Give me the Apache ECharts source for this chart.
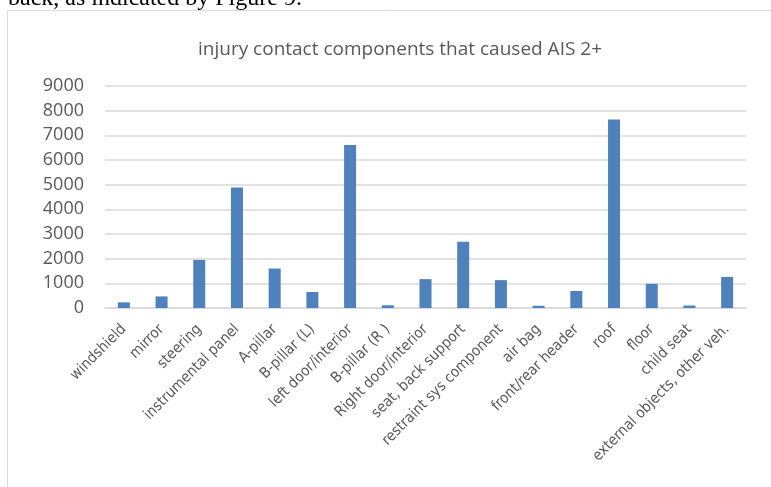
<!DOCTYPE html>
<html lang="en">
<head>
    <meta charset="utf-8"/>
    <title>injury contact components</title>
    <script type="text/javascript" src="https://cdn.jsdelivr.net/npm/echarts@6/dist/echarts.min.js"></script>
    <style>
        html, body {
            margin: 0;
            background: #FFFFFF;
        }

        #chart {
            width: 771px;
            height: 487px;
        }
    </style>
</head>
<body>
<div id="chart"></div>
<script>
    var components = ['windshield', 'mirror', 'steering', 'instrumental panel', 'A-pillar', 'B-pillar (L)',
        'left door/interior', 'B-pillar (R )', 'Right door/interior', 'seat, back support',
        'restraint sys component', 'air bag', 'front/rear header', 'roof', 'floor', 'child seat',
        'external objects, other veh.']
    var injuries = [230, 470, 1950, 4890, 1600, 650, 6610, 110, 1170, 2690, 1130, 90, 690, 7640, 980, 100, 1260]
    var yTicks = [0, 1000, 2000, 3000, 4000, 5000, 6000, 7000, 8000, 9000]

    var chart = echarts.init(document.getElementById('chart'))

    chart.setOption({
        animation: false,
        // 外框 + 上方正文残留
        graphic: [{
            type: 'rect',
            shape: {x: 7.5, y: 10.5, width: 800, height: 500},
            style: {fill: 'none', stroke: '#d9d9d9', lineWidth: 1}
        }, {
            type: 'text',
            x: 8,
            y: 11,
            style: {
                text: 'back, as indicated by Figure 9.',
                font: '24px "Liberation Serif"',
                fill: '#000000',
                verticalAlign: 'bottom'
            }
        }],
        title: {
            text: 'injury contact components that caused AIS 2+',
            left: 395,
            textAlign: 'center',
            top: 35,
            textStyle: {
                fontFamily: 'Open Sans',
                fontSize: 19,
                fontWeight: 'normal',
                color: '#595959'
            }
        },
        grid: {left: 105, right: 25, top: 86, bottom: 179},
        xAxis: {
            type: 'category',
            data: components,
            axisLine: {lineStyle: {color: '#d9d9d9', width: 1.5}},
            axisTick: {show: false},
            axisLabel: {
                interval: 0,
                rotate: 45,
                margin: 19,
                fontFamily: '"DejaVu Sans Condensed", "Open Sans"',
                fontSize: 15,
                color: '#595959'
            }
        },
        yAxis: {
            type: 'value',
            min: yTicks[0],
            max: yTicks[yTicks.length - 1],
            interval: 1000,
            axisLine: {show: false},
            axisTick: {show: false},
            splitLine: {lineStyle: {color: '#d9d9d9', width: 1.5}},
            axisLabel: {
                margin: 21,
                formatter: function (v) {
                    return String(v)
                },
                fontFamily: 'Open Sans',
                fontSize: 18,
                color: '#595959'
            }
        },
        series: [{
            type: 'bar',
            data: injuries,
            barWidth: 12,
            itemStyle: {color: '#4f81bd'}
        }]
    })
</script>
</body>
</html>
